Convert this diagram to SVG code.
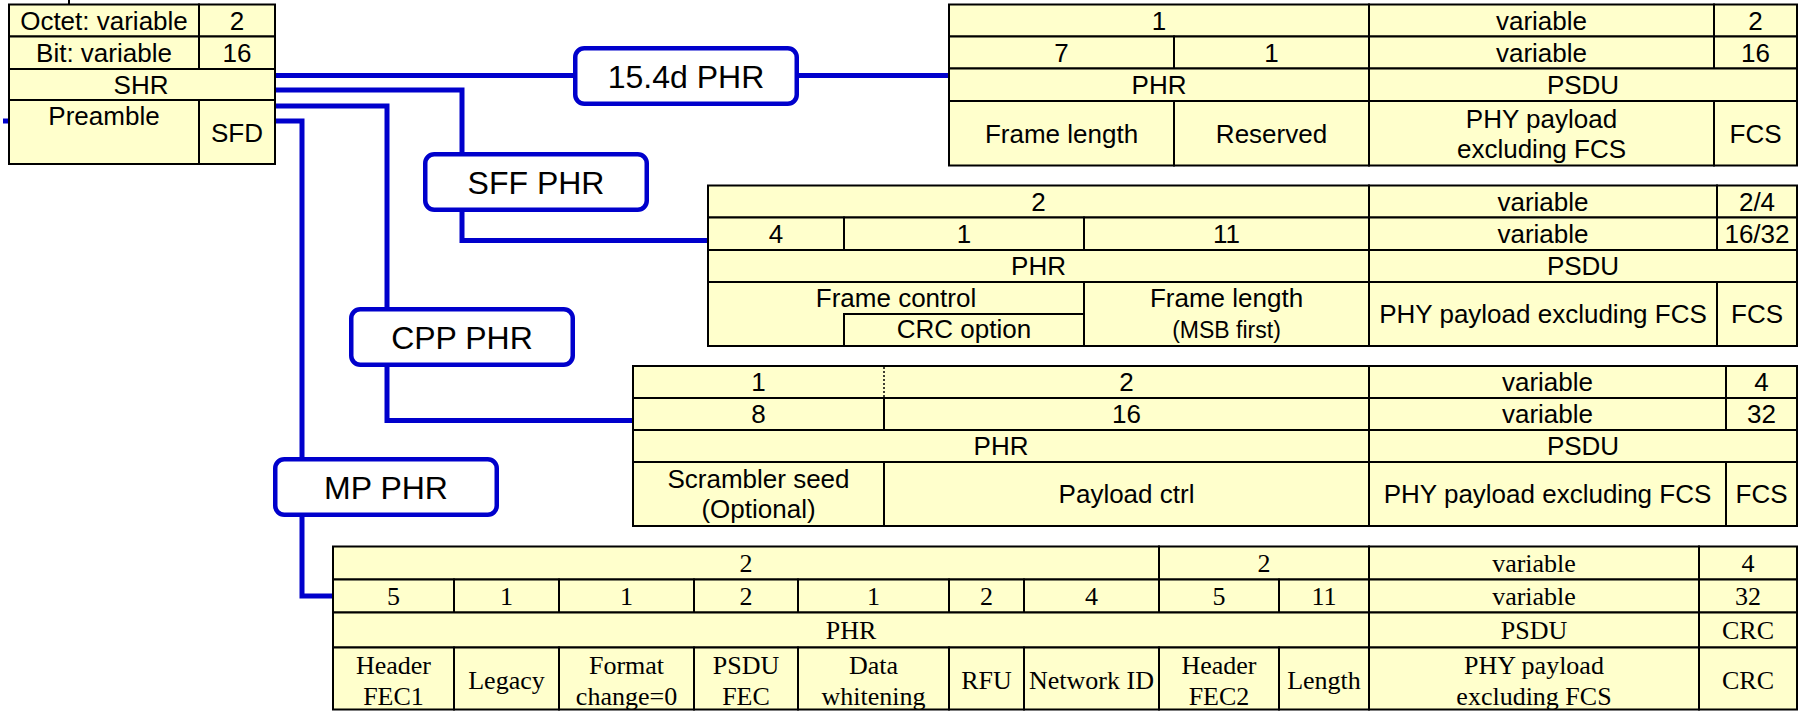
<svg xmlns="http://www.w3.org/2000/svg" width="1810" height="711" viewBox="0 0 1810 711">
<style>
.c{fill:#FFFFCC;stroke:#000;stroke-width:2}
.d{fill:none;stroke:#000;stroke-width:1.5;stroke-dasharray:2 2}
.t{font-family:"Liberation Sans",Arial,sans-serif;font-size:26px;text-anchor:middle;fill:#000}
.sm{font-size:23px}
.s{font-family:"Liberation Serif","Times New Roman",serif;font-size:26px;text-anchor:middle;fill:#000}
.conn{fill:none;stroke:#0000CC;stroke-width:5;stroke-linejoin:miter}
.box{fill:#fff;stroke:#0000CC;stroke-width:4.5}
.bl{font-family:"Liberation Sans",Arial,sans-serif;font-size:32px;text-anchor:middle;fill:#000}
</style>
<rect width="1810" height="711" fill="#fff"/>

<g id="connectors">
<path class="conn" d="M3 121H9"/>
<path class="conn" d="M275 75.5H575"/>
<path class="conn" d="M797 75.5H949"/>
<path class="conn" d="M275 90H462V154"/>
<path class="conn" d="M462 210V240.5H708"/>
<path class="conn" d="M275 106H387V309"/>
<path class="conn" d="M387 365V420.5H633"/>
<path class="conn" d="M275 121H302V459"/>
<path class="conn" d="M302 515V596H333"/>
<line x1="69" y1="0" x2="69" y2="5" stroke="#000" stroke-width="2"/>
</g>

<g id="shr-table">
<rect class="c" x="9" y="4.5" width="190" height="32"/>
<rect class="c" x="199" y="4.5" width="76" height="32"/>
<rect class="c" x="9" y="36.5" width="190" height="32.5"/>
<rect class="c" x="199" y="36.5" width="76" height="32.5"/>
<rect class="c" x="9" y="69" width="266" height="31"/>
<rect class="c" x="9" y="100" width="190" height="64"/>
<rect class="c" x="199" y="100" width="76" height="64"/>
<text class="t" x="104" y="30">Octet: variable</text>
<text class="t" x="237" y="30">2</text>
<text class="t" x="104" y="62">Bit: variable</text>
<text class="t" x="237" y="62">16</text>
<text class="t" x="141" y="94">SHR</text>
<text class="t" x="104" y="125">Preamble</text>
<text class="t" x="237" y="142">SFD</text>
</g>

<g id="box-154d">
<rect class="box" x="575.25" y="48.25" width="221.5" height="55.5" rx="9"/>
<text class="bl" x="686" y="87.5">15.4d PHR</text>
</g>
<g id="box-sff">
<rect class="box" x="425.25" y="154.25" width="221.5" height="55.5" rx="9"/>
<text class="bl" x="536" y="193.5">SFF PHR</text>
</g>
<g id="box-cpp">
<rect class="box" x="351.25" y="309.25" width="221.5" height="55.5" rx="9"/>
<text class="bl" x="462" y="348.5">CPP PHR</text>
</g>
<g id="box-mp">
<rect class="box" x="275.25" y="459.25" width="221.5" height="55.5" rx="9"/>
<text class="bl" x="386" y="498.5">MP PHR</text>
</g>

<g id="table-154d">
<rect class="c" x="949" y="4.5" width="420" height="32"/>
<rect class="c" x="1369" y="4.5" width="345" height="32"/>
<rect class="c" x="1714" y="4.5" width="83" height="32"/>
<rect class="c" x="949" y="36.5" width="225" height="32"/>
<rect class="c" x="1174" y="36.5" width="195" height="32"/>
<rect class="c" x="1369" y="36.5" width="345" height="32"/>
<rect class="c" x="1714" y="36.5" width="83" height="32"/>
<rect class="c" x="949" y="68.5" width="420" height="32.5"/>
<rect class="c" x="1369" y="68.5" width="428" height="32.5"/>
<rect class="c" x="949" y="101" width="225" height="64.5"/>
<rect class="c" x="1174" y="101" width="195" height="64.5"/>
<rect class="c" x="1369" y="101" width="345" height="64.5"/>
<rect class="c" x="1714" y="101" width="83" height="64.5"/>
<text class="t" x="1159" y="30">1</text>
<text class="t" x="1541.5" y="30">variable</text>
<text class="t" x="1755.5" y="30">2</text>
<text class="t" x="1061.5" y="62">7</text>
<text class="t" x="1271.5" y="62">1</text>
<text class="t" x="1541.5" y="62">variable</text>
<text class="t" x="1755.5" y="62">16</text>
<text class="t" x="1159" y="94">PHR</text>
<text class="t" x="1583" y="94">PSDU</text>
<text class="t" x="1061.5" y="143">Frame length</text>
<text class="t" x="1271.5" y="143">Reserved</text>
<text class="t" x="1541.5" y="128">PHY payload</text>
<text class="t" x="1541.5" y="158">excluding FCS</text>
<text class="t" x="1755.5" y="143">FCS</text>
</g>

<g id="table-sff">
<rect class="c" x="708" y="185.5" width="661" height="32"/>
<rect class="c" x="1369" y="185.5" width="348" height="32"/>
<rect class="c" x="1717" y="185.5" width="80" height="32"/>
<rect class="c" x="708" y="217.5" width="136" height="32.5"/>
<rect class="c" x="844" y="217.5" width="240" height="32.5"/>
<rect class="c" x="1084" y="217.5" width="285" height="32.5"/>
<rect class="c" x="1369" y="217.5" width="348" height="32.5"/>
<rect class="c" x="1717" y="217.5" width="80" height="32.5"/>
<rect class="c" x="708" y="250" width="661" height="32"/>
<rect class="c" x="1369" y="250" width="428" height="32"/>
<rect class="c" x="708" y="282" width="376" height="64"/>
<rect class="c" x="844" y="314" width="240" height="32"/>
<rect class="c" x="1084" y="282" width="285" height="64"/>
<rect class="c" x="1369" y="282" width="348" height="64"/>
<rect class="c" x="1717" y="282" width="80" height="64"/>
<text class="t" x="1038.5" y="211">2</text>
<text class="t" x="1543" y="211">variable</text>
<text class="t" x="1757" y="211">2/4</text>
<text class="t" x="776" y="243">4</text>
<text class="t" x="964" y="243">1</text>
<text class="t" x="1226.5" y="243">11</text>
<text class="t" x="1543" y="243">variable</text>
<text class="t" x="1757" y="243">16/32</text>
<text class="t" x="1038.5" y="275">PHR</text>
<text class="t" x="1583" y="275">PSDU</text>
<text class="t" x="896" y="307">Frame control</text>
<text class="t" x="964" y="338">CRC option</text>
<text class="t" x="1226.5" y="307">Frame length</text>
<text class="t sm" x="1226.5" y="338">(MSB first)</text>
<text class="t" x="1543" y="323">PHY payload excluding FCS</text>
<text class="t" x="1757" y="323">FCS</text>
</g>

<g id="table-cpp">
<rect class="c" x="633" y="366" width="736" height="32"/>
<line class="d" x1="884" y1="367" x2="884" y2="397"/>
<rect class="c" x="1369" y="366" width="357" height="32"/>
<rect class="c" x="1726" y="366" width="71" height="32"/>
<rect class="c" x="633" y="398" width="251" height="32"/>
<rect class="c" x="884" y="398" width="485" height="32"/>
<rect class="c" x="1369" y="398" width="357" height="32"/>
<rect class="c" x="1726" y="398" width="71" height="32"/>
<rect class="c" x="633" y="430" width="736" height="32"/>
<rect class="c" x="1369" y="430" width="428" height="32"/>
<rect class="c" x="633" y="462" width="251" height="64"/>
<rect class="c" x="884" y="462" width="485" height="64"/>
<rect class="c" x="1369" y="462" width="357" height="64"/>
<rect class="c" x="1726" y="462" width="71" height="64"/>
<text class="t" x="758.5" y="391">1</text>
<text class="t" x="1126.5" y="391">2</text>
<text class="t" x="1547.5" y="391">variable</text>
<text class="t" x="1761.5" y="391">4</text>
<text class="t" x="758.5" y="423">8</text>
<text class="t" x="1126.5" y="423">16</text>
<text class="t" x="1547.5" y="423">variable</text>
<text class="t" x="1761.5" y="423">32</text>
<text class="t" x="1001" y="455">PHR</text>
<text class="t" x="1583" y="455">PSDU</text>
<text class="t" x="758.5" y="488">Scrambler seed</text>
<text class="t" x="758.5" y="518">(Optional)</text>
<text class="t" x="1126.5" y="503">Payload ctrl</text>
<text class="t" x="1547.5" y="503">PHY payload excluding FCS</text>
<text class="t" x="1761.5" y="503">FCS</text>
</g>

<g id="table-mp">
<rect class="c" x="333" y="546.5" width="826" height="33"/>
<rect class="c" x="1159" y="546.5" width="210" height="33"/>
<rect class="c" x="1369" y="546.5" width="330" height="33"/>
<rect class="c" x="1699" y="546.5" width="98" height="33"/>
<rect class="c" x="333" y="579.5" width="121" height="33"/>
<rect class="c" x="454" y="579.5" width="105" height="33"/>
<rect class="c" x="559" y="579.5" width="135" height="33"/>
<rect class="c" x="694" y="579.5" width="104" height="33"/>
<rect class="c" x="798" y="579.5" width="151" height="33"/>
<rect class="c" x="949" y="579.5" width="75" height="33"/>
<rect class="c" x="1024" y="579.5" width="135" height="33"/>
<rect class="c" x="1159" y="579.5" width="120" height="33"/>
<rect class="c" x="1279" y="579.5" width="90" height="33"/>
<rect class="c" x="1369" y="579.5" width="330" height="33"/>
<rect class="c" x="1699" y="579.5" width="98" height="33"/>
<rect class="c" x="333" y="612.5" width="1036" height="35"/>
<rect class="c" x="1369" y="612.5" width="330" height="35"/>
<rect class="c" x="1699" y="612.5" width="98" height="35"/>
<rect class="c" x="333" y="647.5" width="121" height="62"/>
<rect class="c" x="454" y="647.5" width="105" height="62"/>
<rect class="c" x="559" y="647.5" width="135" height="62"/>
<rect class="c" x="694" y="647.5" width="104" height="62"/>
<rect class="c" x="798" y="647.5" width="151" height="62"/>
<rect class="c" x="949" y="647.5" width="75" height="62"/>
<rect class="c" x="1024" y="647.5" width="135" height="62"/>
<rect class="c" x="1159" y="647.5" width="120" height="62"/>
<rect class="c" x="1279" y="647.5" width="90" height="62"/>
<rect class="c" x="1369" y="647.5" width="330" height="62"/>
<rect class="c" x="1699" y="647.5" width="98" height="62"/>
<text class="s" x="746" y="572">2</text>
<text class="s" x="1264" y="572">2</text>
<text class="s" x="1534" y="572">variable</text>
<text class="s" x="1748" y="572">4</text>
<text class="s" x="393.5" y="605">5</text>
<text class="s" x="506.5" y="605">1</text>
<text class="s" x="626.5" y="605">1</text>
<text class="s" x="746" y="605">2</text>
<text class="s" x="873.5" y="605">1</text>
<text class="s" x="986.5" y="605">2</text>
<text class="s" x="1091.5" y="605">4</text>
<text class="s" x="1219" y="605">5</text>
<text class="s" x="1324" y="605">11</text>
<text class="s" x="1534" y="605">variable</text>
<text class="s" x="1748" y="605">32</text>
<text class="s" x="851" y="639">PHR</text>
<text class="s" x="1534" y="639">PSDU</text>
<text class="s" x="1748" y="639">CRC</text>
<text class="s" x="393.5" y="674">Header</text>
<text class="s" x="393.5" y="705">FEC1</text>
<text class="s" x="506.5" y="689">Legacy</text>
<text class="s" x="626.5" y="674">Format</text>
<text class="s" x="626.5" y="705">change=0</text>
<text class="s" x="746" y="674">PSDU</text>
<text class="s" x="746" y="705">FEC</text>
<text class="s" x="873.5" y="674">Data</text>
<text class="s" x="873.5" y="705">whitening</text>
<text class="s" x="986.5" y="689">RFU</text>
<text class="s" x="1091.5" y="689">Network ID</text>
<text class="s" x="1219" y="674">Header</text>
<text class="s" x="1219" y="705">FEC2</text>
<text class="s" x="1324" y="689">Length</text>
<text class="s" x="1534" y="674">PHY payload</text>
<text class="s" x="1534" y="705">excluding FCS</text>
<text class="s" x="1748" y="689">CRC</text>
</g>
</svg>
